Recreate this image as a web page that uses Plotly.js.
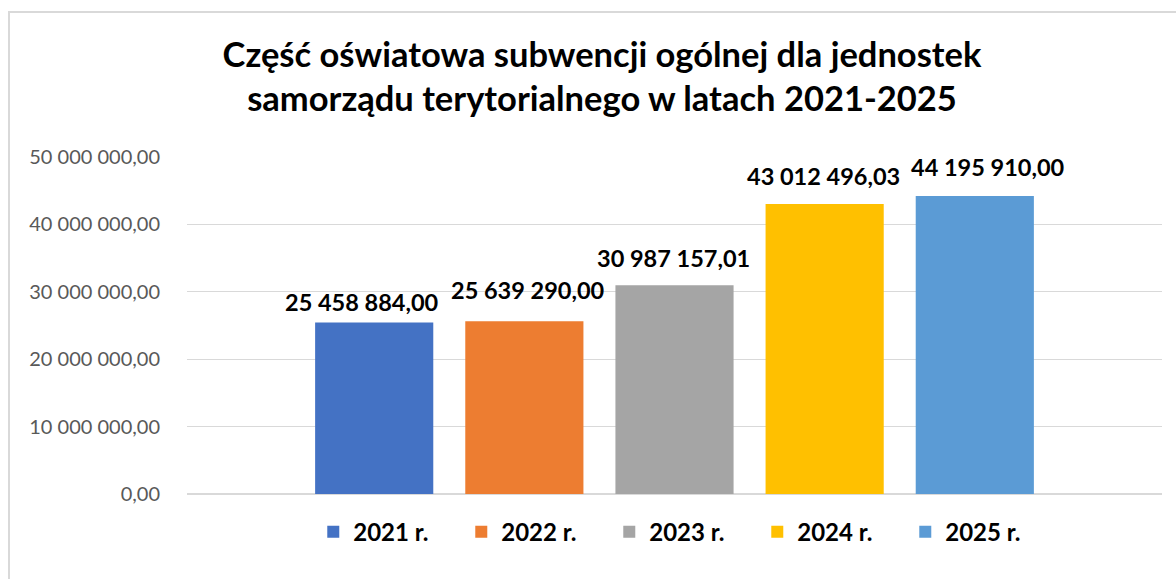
<!DOCTYPE html>
<html>
<head>
<meta charset="utf-8">
<script src="https://cdn.plot.ly/plotly-3.0.1.min.js"></script>
<style>html,body{margin:0;padding:0;background:#fff;}#chart{width:1176px;height:579px;}</style>
</head>
<body>
<div id="chart"></div>
<script>
const seriesNames = ['2021 r.', '2022 r.', '2023 r.', '2024 r.', '2025 r.'];
const seriesValues = [25458884.00, 25639290.00, 30987157.01, 43012496.03, 44195910.00];
const seriesColors = ['#4472C4', '#ED7D31', '#A5A5A5', '#FFC000', '#5B9BD5'];
const category = [''];
const yTicks = [0, 10000000, 20000000, 30000000, 40000000, 50000000];
const titleText = 'Część oświatowa subwencji ogólnej dla jednostek<br>samorządu terytorialnego w latach 2021-2025';

// label nudges (px), as placed in the original to avoid overlaps
const labelNudgeX = [-12, 4, -1, -1, 13];
const labelNudgeY = [4, 15, 11, 12, 13];

const FONT = 'Lato, "Open Sans", sans-serif';
const BARGAP = 0.23;
const BARGROUPGAP = 0.213;
const MARGIN = {l: 187, r: 14, t: 157, b: 85, pad: 0};
const W = 1176, H = 579;

function formatPL(v) {
  const parts = v.toFixed(2).split('.');
  const intPart = parts[0].replace(/\B(?=(\d{3})+(?!\d))/g, ' ');
  return intPart + ',' + parts[1];
}

const traces = seriesNames.map((name, i) => ({
  type: 'bar',
  name: name,
  x: category,
  y: [seriesValues[i]],
  marker: {color: seriesColors[i]},
  hoverinfo: 'skip'
}));

const plotW = W - MARGIN.l - MARGIN.r;
const slot = plotW * (1 - BARGAP) / seriesNames.length;
const annotations = seriesValues.map((v, i) => ({
  xref: 'x', yref: 'y',
  x: 0, y: v,
  text: formatPL(v),
  showarrow: false,
  xanchor: 'center', yanchor: 'bottom',
  xshift: (i - (seriesNames.length - 1) / 2) * slot + labelNudgeX[i],
  yshift: labelNudgeY[i],
  font: {family: FONT, size: 23.5, color: '#000000', weight: 'bold'}
}));

const layout = {
  width: W,
  height: H,
  separators: ', ',
  paper_bgcolor: '#ffffff',
  plot_bgcolor: '#ffffff',
  margin: MARGIN,
  title: {
    text: titleText,
    font: {family: FONT, size: 34.5, color: '#000000', weight: 'bold'},
    x: 602 / 1176, xanchor: 'center', xref: 'container',
    y: 0.885, yanchor: 'top', yref: 'container'
  },
  barmode: 'group',
  bargap: BARGAP,
  bargroupgap: BARGROUPGAP,
  xaxis: {
    showticklabels: false,
    showgrid: false,
    zeroline: false,
    showline: false,
    ticks: ''
  },
  yaxis: {
    range: [0, 50000000],
    tickvals: yTicks,
    tickformat: ',.2f',
    tickfont: {family: FONT, size: 20, color: '#595959'},
    showgrid: true,
    gridcolor: '#D9D9D9',
    gridwidth: 1.3,
    zeroline: true,
    zerolinecolor: '#D9D9D9',
    zerolinewidth: 1.3,
    showline: false,
    ticks: 'outside',
    ticklen: 22,
    tickcolor: 'rgba(0,0,0,0)'
  },
  showlegend: true,
  legend: {
    orientation: 'h',
    x: 0.509, xanchor: 'center',
    y: -0.113, yanchor: 'middle',
    font: {family: FONT, size: 24, color: '#000000', weight: 'bold'},
    entrywidth: 103,
    itemwidth: 30,
    traceorder: 'normal'
  },
  annotations: annotations,
  shapes: [{
    type: 'rect', xref: 'paper', yref: 'paper',
    x0: (9 - 187) / 975, x1: 1.1,
    y0: -0.5, y1: (494 - 12) / 337,
    line: {color: '#D9D9D9', width: 2},
    fillcolor: 'rgba(0,0,0,0)',
    layer: 'below'
  }]
};

Plotly.newPlot('chart', traces, layout, {displayModeBar: false, staticPlot: true});
</script>
</body>
</html>
